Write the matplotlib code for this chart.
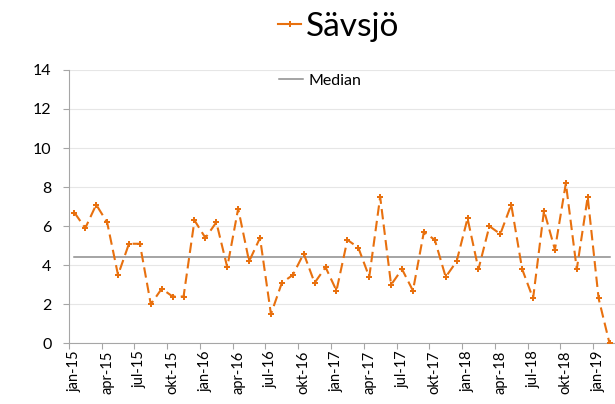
import numpy as np
import matplotlib
matplotlib.use('Agg')
import matplotlib.pyplot as plt
from matplotlib.lines import Line2D

plt.rcParams['font.family'] = ['Lato', 'DejaVu Sans']

# monthly values jan-15 .. feb-19
months = ['jan', 'feb', 'mar', 'apr', 'maj', 'jun',
          'jul', 'aug', 'sep', 'okt', 'nov', 'dec']
years = ['15', '16', '17', '18', '19']
labels = [f'{m}-{y}' for y in years for m in months][:50]

savsjo = [6.7, 5.9, 7.1, 6.2, 3.5, 5.1, 5.1, 2.0, 2.8, 2.4,
          2.4, 6.3, 5.4, 6.2, 3.9, 6.9, 4.2, 5.4, 1.5, 3.1,
          3.5, 4.6, 3.1, 3.9, 2.7, 5.3, 4.9, 3.4, 7.5, 3.0,
          3.8, 2.7, 5.7, 5.3, 3.4, 4.2, 6.4, 3.8, 6.0, 5.6,
          7.1, 3.8, 2.3, 6.8, 4.8, 8.2, 3.8, 7.5, 2.3, 0.0]
median_value = 4.4

orange = '#e8700e'
axis_grey = '#a6a6a6'

fig = plt.figure(figsize=(6.15, 4.04), dpi=100)
ax = fig.add_axes([0.112, 0.150, 0.888, 0.677])

x = np.arange(len(savsjo))
ax.plot(x, [median_value] * len(x), color='#8c8c8c', lw=1.1, zorder=2)
ax.plot(x, savsjo, color=orange, lw=1.5, linestyle=(0, (5, 2.5)),
        marker='P', markersize=4.5, markeredgewidth=0, zorder=3)

ax.set_xlim(-0.5, len(x) - 0.5)
ax.set_ylim(0, 14)
ax.set_yticks(np.arange(0, 15, 2))
ax.grid(axis='y', color='#e6e6e6', lw=0.8)
ax.set_axisbelow(True)

# ticks at category boundaries, labels at every third month
ax.set_xticks(np.arange(-0.5, len(x), 3))
ax.set_xticklabels([])
ax.set_xticks(x[::3], minor=True)
ax.set_xticklabels(labels[::3], minor=True, rotation=90, fontsize=10.5)
ax.tick_params(axis='x', which='major', length=4, color=axis_grey)
ax.tick_params(axis='x', which='minor', length=0, pad=5)
ax.tick_params(axis='y', length=4.5, color=axis_grey, labelsize=11.5, pad=8)

for s in ['top', 'right']:
    ax.spines[s].set_visible(False)
for s in ['left', 'bottom']:
    ax.spines[s].set_color(axis_grey)

# legends
h1 = Line2D([], [], color=orange, lw=1.5, marker='P', markersize=4.5,
            markeredgewidth=0)
leg1 = fig.legend([h1], ['Sävsjö'], loc='center', bbox_to_anchor=(0.551, 0.933),
                  frameon=False, fontsize=24, handlelength=0.7,
                  handletextpad=0.15)
h2 = Line2D([], [], color='#8c8c8c', lw=1.1)
fig.legend([h2], ['Median'], loc='center', bbox_to_anchor=(0.52, 0.80),
           frameon=False, fontsize=11.5, handlelength=1.55, handletextpad=0.3)

fig.savefig('out.png', dpi=100)
